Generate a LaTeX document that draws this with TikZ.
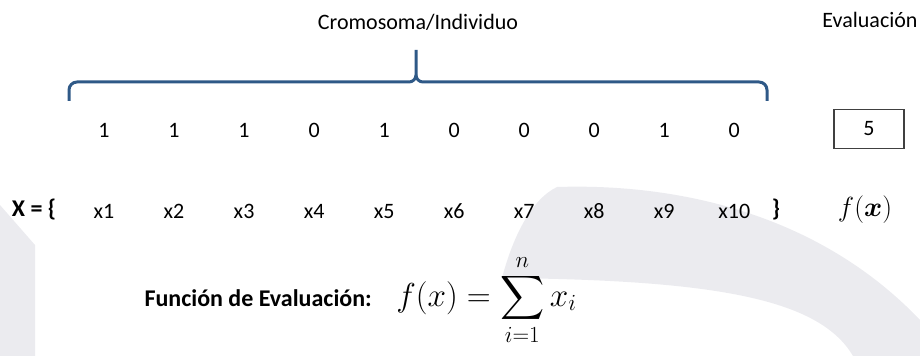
\documentclass[tikz,border=0pt]{standalone}
\usepackage{amsmath, amssymb}
\usepackage{fontspec}
\setmainfont{Carlito}
\usepackage{xcolor}
\usepackage{tikz}
\usetikzlibrary{positioning}
\definecolor{braceblue}{RGB}{47,89,135}
\definecolor{wmgray}{RGB}{235,235,239}
\definecolor{boxgray}{RGB}{64,64,64}

\begin{document}
\begin{tikzpicture}[x=0.75pt, y=-0.75pt,
    every node/.style={font=\fontsize{16.5}{20}\selectfont, inner sep=0pt},
    cell/.style={minimum width=52.125pt, text height=12pt, text depth=0pt},
    boldtxt/.style={font=\fontsize{18}{22}\selectfont\bfseries},
    mathtxt/.style={font=\fontsize{20}{24}\selectfont}]
  \useasboundingbox (0,0) rectangle (920,356);
  % faint background swoosh
  \fill[wmgray] (557,187) .. controls (680,183) and (820,215) .. (920,320) -- (920,356) -- (853,356)
    .. controls (820,300) and (720,280) .. (502,278) .. controls (512,240) and (530,200) .. (557,187) -- cycle;
  \fill[wmgray] (0,205) -- (35,245) -- (35,356) -- (0,356) -- cycle;

  \node (title) at (418,22) {Cromosoma/Individuo};
  \node (evaltitle) at (870,20) {Evaluación};

  % brace over the chromosome
  \coordinate (bl) at (69,101);
  \coordinate (bm) at (416,50);
  \coordinate (br) at (767,101);
  \draw[braceblue, line width=2.25pt, line join=round]
    (bl) -- (69,90) to[out=90, in=180] (77,82) -- (409,82) to[out=0, in=-90] (416,75) -- (bm);
  \draw[braceblue, line width=2.25pt, line join=round]
    (416,75) to[out=-90, in=180] (423,82) -- (759,82) to[out=0, in=90] (767,90) -- (br);

  % genes
  \node[cell] (g1) at (104,130) {1};
  \node[cell, right=0pt of g1] (g2) {1};
  \node[cell, right=0pt of g2] (g3) {1};
  \node[cell, right=0pt of g3] (g4) {0};
  \node[cell, right=0pt of g4] (g5) {1};
  \node[cell, right=0pt of g5] (g6) {0};
  \node[cell, right=0pt of g6] (g7) {0};
  \node[cell, right=0pt of g7] (g8) {0};
  \node[cell, right=0pt of g8] (g9) {1};
  \node[cell, right=0pt of g9] (g10) {0};
  \node[draw=boxgray, line width=0.9pt, minimum width=52.5pt, minimum height=29.25pt] (fit) at (869,129) {5};

  % variables
  \node[boldtxt] (xopen) at (34,210) {X = \{};
  \node[cell] (x1) at (104,210) {x1};
  \node[cell, right=0pt of x1] (x2) {x2};
  \node[cell, right=0pt of x2] (x3) {x3};
  \node[cell, right=0pt of x3] (x4) {x4};
  \node[cell, right=0pt of x4] (x5) {x5};
  \node[cell, right=0pt of x5] (x6) {x6};
  \node[cell, right=0pt of x6] (x7) {x7};
  \node[cell, right=0pt of x7] (x8) {x8};
  \node[cell, right=0pt of x8] (x9) {x9};
  \node[cell, right=0pt of x9] (x10) {x10};
  \node[boldtxt] (xclose) at (776,210) {\}};
  \node[mathtxt] (fx) at (865,210) {$f(\boldsymbol{x})$};

  % fitness function
  \node[anchor=base east, boldtxt] (fname) at (372,306) {Función de Evaluación:};
  \node[anchor=base west, font=\fontsize{23}{27}\selectfont] (fdef) at (396,306) {$\displaystyle f(x) = \sum_{i=1}^{n} x_i$};
\end{tikzpicture}
\end{document}
